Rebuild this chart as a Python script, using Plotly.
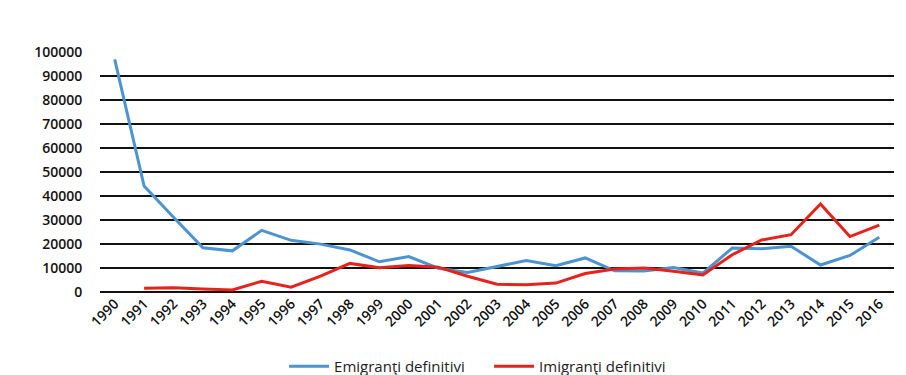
import plotly.graph_objects as go

years = [str(y) for y in range(1990, 2017)]
emigranti = [96929, 44160, 31152, 18446, 17146, 25675, 21526, 19945, 17536, 12594,
             14753, 9921, 8154, 10673, 13082, 10938, 14197, 8830, 8739, 10211,
             7906, 18307, 18001, 19049, 11251, 15235, 22807]
imigranti = [None, 1602, 1753, 1269, 878, 4458, 1974, 6600, 11907, 10078,
             11024, 10350, 6582, 3267, 2987, 3704, 7714, 9575, 10030, 8606,
             7059, 15538, 21684, 23888, 36644, 23093, 27863]
y_ticks = list(range(0, 100001, 10000))

fig = go.Figure()
fig.add_trace(go.Scatter(x=years, y=emigranti, mode="lines", name="Emigranţi definitivi",
                         line=dict(color="#4b93d1", width=3)))
fig.add_trace(go.Scatter(x=years, y=imigranti, mode="lines", name="Imigranţi definitivi",
                         line=dict(color="#e5231c", width=3), connectgaps=False))

tick_font = dict(family="Open Sans, Noto Sans, sans-serif", size=14, color="#111", weight=600)

fig.update_layout(
    width=906, height=375,
    margin=dict(l=100, r=12, t=52, b=83, autoexpand=False),
    paper_bgcolor="white", plot_bgcolor="white",
    font=dict(family="Open Sans, Noto Sans, sans-serif", size=13, color="#1a1a1a"),
    showlegend=True,
    legend=dict(orientation="h", x=0.49, xanchor="center", y=-0.31,
                yanchor="middle", font=dict(family="Open Sans, Noto Sans, sans-serif",
                                            size=15, color="#222"),
                itemwidth=40, tracegroupgap=0, entrywidth=150, entrywidthmode="pixels"),
    xaxis=dict(type="category", range=[-0.5, 26.5], tickangle=-45, showgrid=False,
               showline=False, ticks="", tickfont=tick_font),
    yaxis=dict(range=[0, 100000], tickvals=y_ticks, ticktext=[str(v) for v in y_ticks],
               showgrid=True, gridcolor="#111", gridwidth=1.5,
               zeroline=True, zerolinecolor="#111", zerolinewidth=1.5,
               ticks="outside", ticklen=14, tickcolor="rgba(0,0,0,0)",
               tickfont=tick_font),
)

fig.write_html("out.html", config={"displayModeBar": False},
               post_script="document.body.style.margin='0';document.body.style.overflow='hidden';")
